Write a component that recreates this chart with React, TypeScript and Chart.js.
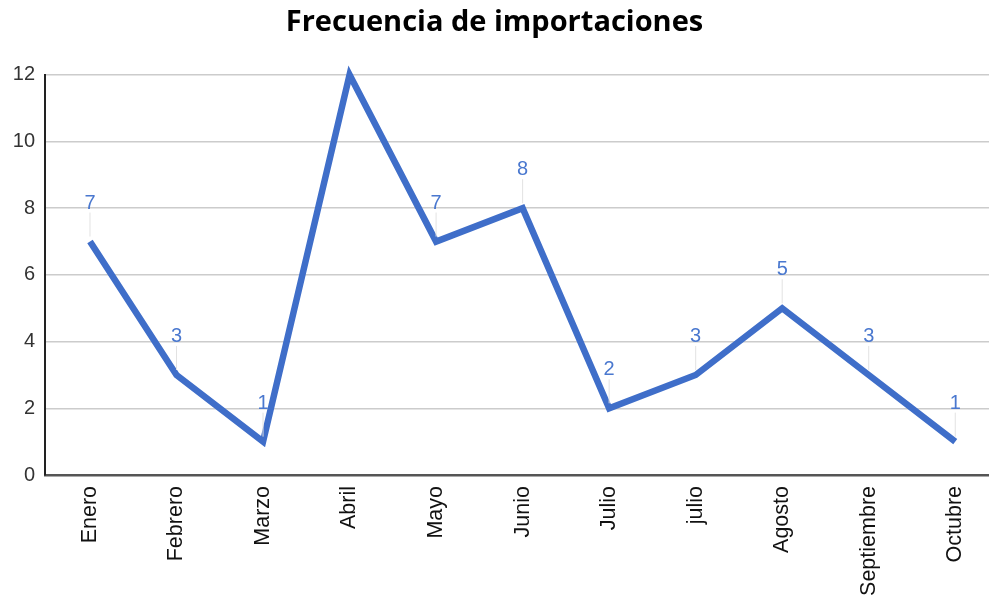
import React, { useEffect, useRef } from "react";
import { Chart, registerables } from "chart.js";

Chart.register(...registerables);

const categories = ["Enero", "Febrero", "Marzo", "Abril", "Mayo", "Junio", "Julio", "julio", "Agosto", "Septiembre", "Octubre"];
const values = [7, 3, 1, 12, 7, 8, 2, 3, 5, 3, 1];
const yTicks = [0, 2, 4, 6, 8, 10, 12];
const titleText = "Frecuencia de importaciones";

const LINE_COLOR = "#3f6ec9";
const LABEL_COLOR = "#4a78cf";

const dataLabelPlugin = {
  id: "pointLabels",
  afterDatasetsDraw(chart: any) {
    const ctx = chart.ctx;
    const meta = chart.getDatasetMeta(0);
    const top = chart.chartArea.top;
    ctx.save();
    meta.data.forEach((pt: any, i: number) => {
      const x = pt.x;
      const y = pt.y;
      const textY = y - 33;
      if (textY - 14 < top) return; // label would fall outside plot area
      ctx.strokeStyle = "#e2e2e2";
      ctx.lineWidth = 1;
      ctx.beginPath();
      ctx.moveTo(x, y - 5);
      ctx.lineTo(x, y - 29);
      ctx.stroke();
      ctx.fillStyle = LABEL_COLOR;
      ctx.font = "20px 'Liberation Sans'";
      ctx.textAlign = "center";
      ctx.textBaseline = "alphabetic";
      ctx.fillText(String(values[i]), x, textY);
    });
    ctx.restore();
  },
};

export default function App() {
  const ref = useRef<HTMLCanvasElement | null>(null);
  useEffect(() => {
    document.body.style.margin = "0";
    const canvas = ref.current!;
    const chart = new Chart(canvas, {
      type: "line",
      data: {
        datasets: [
          {
            data: values.map((v, i) => ({ x: i, y: v })),
            borderColor: LINE_COLOR,
            borderWidth: 6.5,
            pointRadius: 0,
            tension: 0,
            fill: false,
            clip: false as any,
            borderJoinStyle: "miter",
          },
        ],
      },
      options: {
        responsive: false,
        animation: false,
        layout: { padding: 0 },
        plugins: {
          legend: { display: false },
          tooltip: { enabled: false },
          title: {
            display: true,
            text: titleText,
            color: "#000",
            font: { family: "'Open Sans'", size: 29, weight: "bold" },
            padding: { top: 5, bottom: 35 },
          },
        },
        scales: {
          x: {
            type: "linear",
            min: -0.52,
            max: 10.39,
            afterBuildTicks: (scale: any) => {
              scale.ticks = categories.map((_, i) => ({ value: i }));
            },
            afterFit: (scale: any) => {
              scale.height = 124;
              scale.paddingLeft = 0;
              scale.paddingRight = 0;
            },
            grid: { display: false, drawTicks: false },
            border: { display: true, color: "#555", width: 2.5 },
            ticks: {
              autoSkip: false,
              maxRotation: 90,
              minRotation: 90,
              padding: 11,
              color: "#111",
              font: { family: "'Liberation Sans'", size: 21.5 },
              callback: (v: any) => categories[v as number] ?? "",
            },
          },
          y: {
            min: 0,
            max: 12,
            afterBuildTicks: (scale: any) => {
              scale.ticks = yTicks.map((v) => ({ value: v }));
            },
            afterFit: (scale: any) => {
              scale.width = 45;
            },
            grid: { color: "#cccccc", lineWidth: 1.5, drawTicks: false },
            border: { display: true, color: "#222", width: 2 },
            ticks: {
              padding: 10,
              color: "#333",
              font: { family: "'Liberation Sans'", size: 20 },
            },
          },
        },
      },
      plugins: [dataLabelPlugin],
    });
    return () => chart.destroy();
  }, []);
  return <canvas ref={ref} width={989} height={599} style={{ display: "block" }} />;
}
